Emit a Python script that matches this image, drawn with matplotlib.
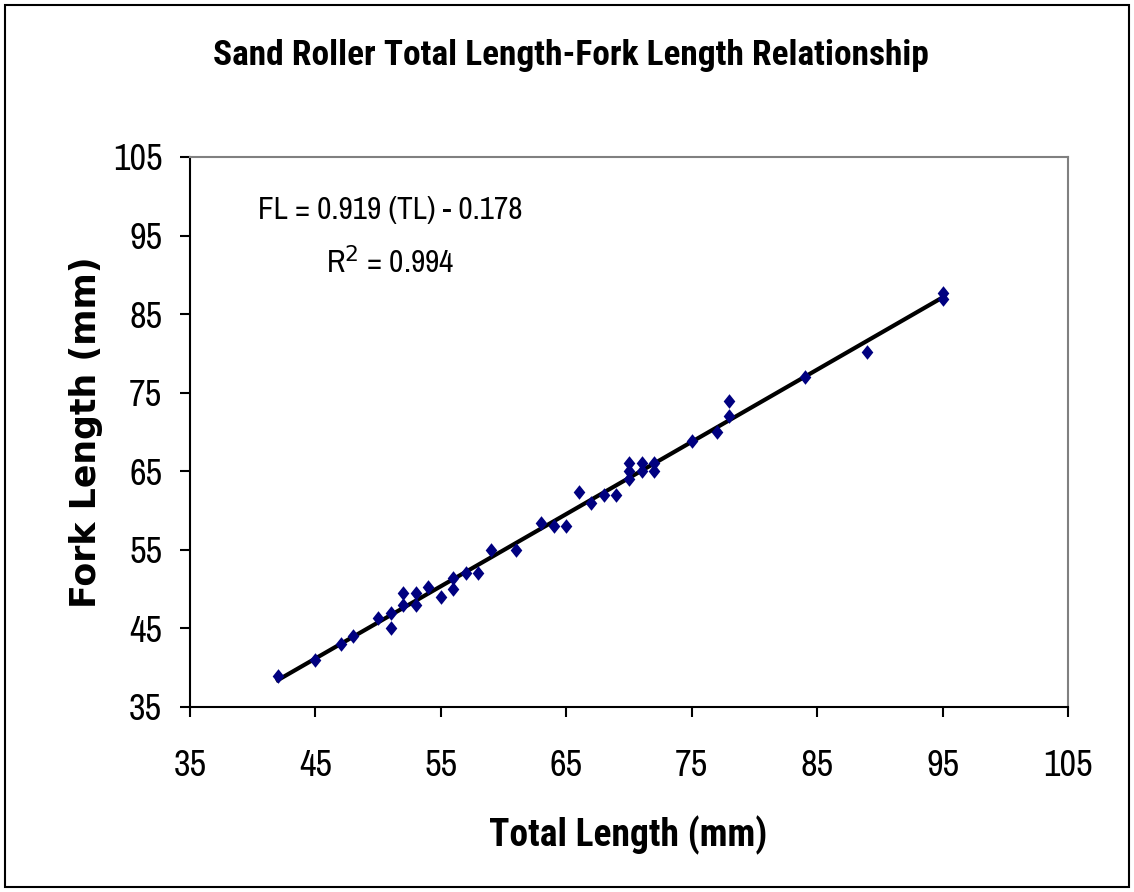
import matplotlib
matplotlib.use("Agg")
import matplotlib.pyplot as plt
import numpy as np
from matplotlib.patches import Rectangle
from matplotlib.path import Path

NARROW = ['Archivo Narrow', 'Roboto Condensed', 'Liberation Sans', 'DejaVu Sans']
NARROW_BOLD = ['Roboto Condensed', 'Barlow Semi Condensed', 'Liberation Sans', 'DejaVu Sans']
plt.rcParams['font.family'] = NARROW

total_length = [42, 45, 47, 48, 50, 51, 51, 52, 52, 53, 53, 54, 55, 56, 56, 57, 58, 59, 61,
                63, 64, 65, 66, 67, 68, 69, 70, 70, 70, 71, 71, 72, 72, 75, 77, 78, 78, 84, 89, 95, 95]
fork_length = [39, 41, 43, 44, 46.3, 47, 45, 49.5, 48, 49.5, 48, 50.3, 49, 50, 51.4, 52, 52, 55, 55,
               58.4, 58, 58, 62.4, 61, 62, 62, 64, 65, 66, 65, 66, 65, 66, 68.8, 70, 72, 74, 77, 80.2, 87.7, 86.9]
slope = 0.919
intercept = -0.178
r2 = 0.994

x_ticks = [35, 45, 55, 65, 75, 85, 95, 105]
y_ticks = [35, 45, 55, 65, 75, 85, 95, 105]

W, H = 1134, 892
fig = plt.figure(figsize=(W / 100, H / 100), dpi=100)
fig.patches.append(Rectangle((5 / W, 5 / H), 1124 / W, 882 / H, transform=fig.transFigure,
                             fill=False, edgecolor='black', linewidth=1.5))

ax = fig.add_axes([190 / W, 1 - 707 / H, (1068 - 190) / W, (707 - 157) / H])
ax.set_xlim(35, 105)
ax.set_ylim(35, 105)
ax.set_xticks(x_ticks)
ax.set_yticks(y_ticks)
ax.tick_params(direction='out', length=7, width=1.5, labelsize=26, color='black')
ax.tick_params(axis='x', pad=23)
ax.tick_params(axis='y', pad=13)
for s in ('left', 'bottom'):
    ax.spines[s].set_color('black')
    ax.spines[s].set_linewidth(1.5)
for s in ('top', 'right'):
    ax.spines[s].set_color('#808080')
    ax.spines[s].set_linewidth(1.5)

diamond = Path([(0, 1), (0.8, 0), (0, -1), (-0.8, 0), (0, 1)],
               [Path.MOVETO, Path.LINETO, Path.LINETO, Path.LINETO, Path.CLOSEPOLY])

xs = np.array([min(total_length), max(total_length)])
ax.plot(xs, slope * xs + intercept, color='black', linewidth=3, zorder=2)
ax.scatter(total_length, fork_length, marker=diamond, s=110, color='#000080', zorder=3, linewidths=0)

ax.text(68 / 878, 1 - 53 / 550, f"FL = {slope} (TL) - {abs(intercept)}", transform=ax.transAxes,
        fontsize=22.5, ha='left', va='center')
ax.text(200 / 878, 1 - 105 / 550, f"R$^2$ = {r2}", transform=ax.transAxes, fontsize=22.5,
        ha='center', va='center')

fig.text(571 / W, 1 - 55 / H, "Sand Roller Total Length-Fork Length Relationship",
         fontsize=25.5, fontweight='bold', ha='center', va='center', family=NARROW_BOLD)
fig.text(628 / W, 1 - 835 / H, "Total Length (mm)", fontsize=27, fontweight='bold',
         ha='center', va='center', family=NARROW_BOLD)
fig.text(86 / W, 1 - 432 / H, "Fork Length (mm)", fontsize=25, fontweight='bold',
         ha='center', va='center', rotation=90, family=['DejaVu Sans'])

fig.savefig("out.png", dpi=100, facecolor='white')
